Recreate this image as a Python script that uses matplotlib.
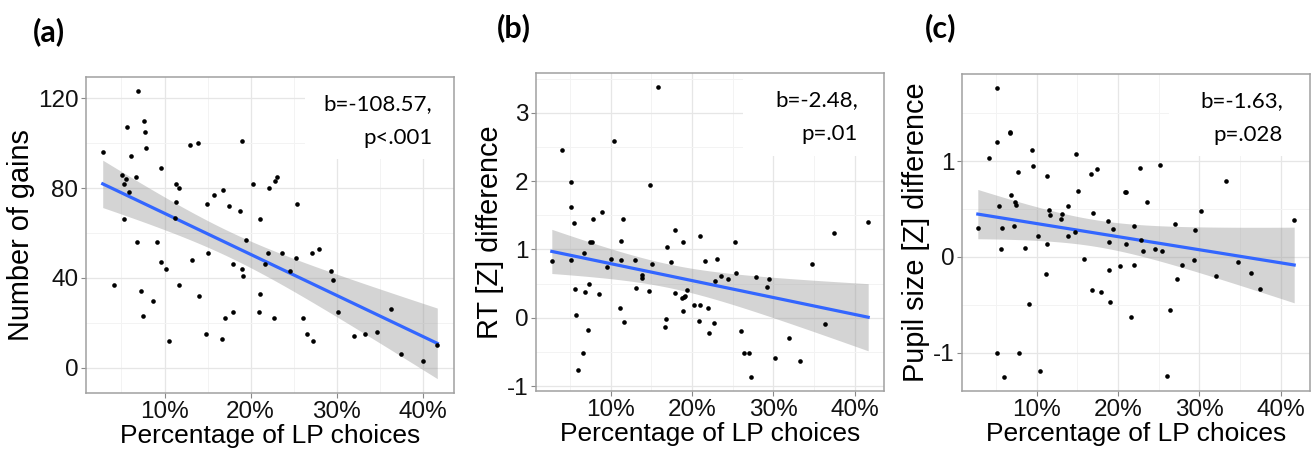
import numpy as np
import matplotlib
matplotlib.use("Agg")
import matplotlib.pyplot as plt
from matplotlib.ticker import MultipleLocator, PercentFormatter
from matplotlib.patches import Rectangle

plt.rcParams["axes.unicode_minus"] = False

# percentage of LP choices (x) and outcome (y)
gains_x = [2.82, 4.17, 5.10, 5.25, 5.52, 5.25, 5.64, 5.87, 6.10, 6.72, 6.83, 6.87, 7.22, 7.49,
           7.57, 7.72, 7.88, 8.69, 9.07, 9.58, 9.65, 10.15, 10.54, 11.20, 11.35, 11.39, 11.66,
           11.66, 13.01, 13.24, 13.90, 13.98, 14.79, 14.94, 15.10, 15.79, 16.64, 16.80, 17.03,
           17.53, 17.95, 17.99, 18.76, 18.96, 19.00, 19.11, 19.42, 20.23, 20.93, 21.04, 21.08,
           21.66, 22.08, 22.16, 22.74, 22.86, 23.09, 23.63, 24.59, 25.25, 25.44, 26.06, 26.53,
           27.10, 27.26, 27.95, 29.31, 29.54, 30.19, 32.01, 33.32, 34.75, 36.37, 37.53, 40.0, 41.70]
gains_y = [96.0, 36.9, 86.0, 82.0, 84.1, 66.1, 107.1, 78.2, 94.1, 85.1, 55.9, 123.1, 34.0, 22.9,
           110.1, 105.1, 98.0, 29.9, 55.9, 47.0, 89.1, 43.9, 12.0, 66.8, 74.0, 82.0, 79.9,
           36.9, 99.0, 47.9, 100.0, 31.9, 14.9, 73.0, 51.0, 77.1, 12.9, 79.1, 21.9,
           72.1, 46.0, 25.0, 70.0, 43.9, 101.1, 40.9, 57.0, 82.0, 25.0, 33.0, 66.1,
           46.0, 51.0, 80.1, 21.9, 83.1, 85.1, 51.0, 43.0, 48.9, 73.0, 21.9, 14.9,
           51.0, 12.0, 52.9, 43.0, 39.0, 25.0, 13.9, 14.9, 16.0, 26.0, 5.9, 3.0, 9.9]

rt_x = [2.75, 4.06, 5.05, 5.13, 5.13, 5.42, 5.58, 5.78, 5.99, 6.64, 6.73, 6.81, 7.18, 7.38,
        7.42, 7.67, 7.79, 8.61, 8.98, 9.51, 10.08, 10.41, 11.15, 11.27, 11.31, 11.56, 11.60,
        12.99, 13.15, 13.89, 13.89, 14.75, 14.87, 15.08, 15.77, 16.63, 16.75, 16.92, 17.45,
        17.90, 17.94, 18.72, 18.84, 18.92, 18.96, 19.09, 19.33, 20.23, 20.89, 21.01, 21.01,
        21.54, 21.99, 22.08, 22.65, 22.85, 23.06, 23.55, 24.49, 25.23, 25.39, 26.05, 26.41,
        27.03, 27.23, 27.89, 29.28, 29.53, 30.22, 31.98, 33.29, 34.77, 36.36, 37.47, 41.68]
rt_y = [0.83, 2.45, 1.99, 1.62, 0.85, 1.38, 0.42, 0.04, -0.76, -0.51, 0.95, 0.38, -0.18, 0.50,
        1.11, 1.11, 1.45, 0.35, 1.55, 0.74, 0.86, 2.59, 0.15, 1.12, 0.84, 1.44, -0.06,
        0.84, 0.43, 0.63, 0.58, 0.39, 1.95, 0.78, 3.37, -0.14, -0.02, 1.03, 0.81,
        1.28, 0.36, 0.29, 1.11, 0.10, 0.31, 0.32, 0.40, 0.19, -0.04, 1.20, 0.18,
        0.83, 0.14, -0.22, -0.08, 0.54, 0.86, 0.61, 0.56, 1.11, 0.65, -0.20, -0.51,
        -0.51, -0.86, 0.60, 0.45, 0.56, -0.59, -0.29, -0.63, 0.78, -0.09, 1.24, 1.40]

pupil_x = [2.74, 4.09, 5.08, 5.16, 5.16, 5.40, 5.61, 5.77, 6.02, 6.68, 6.72, 6.80, 7.17, 7.37,
           7.41, 7.66, 7.83, 8.60, 9.02, 9.47, 9.59, 10.12, 10.41, 11.15, 11.27, 11.31, 11.56,
           11.60, 12.95, 13.12, 13.82, 13.90, 14.76, 14.88, 15.05, 15.79, 16.65, 16.77, 16.93,
           17.47, 17.92, 18.74, 18.90, 18.90, 19.03, 19.36, 20.26, 20.87, 20.99, 20.99, 21.57,
           22.02, 22.02, 22.68, 22.88, 23.09, 23.54, 24.61, 25.22, 25.39, 26.04, 26.41, 27.03,
           27.23, 27.93, 29.29, 29.53, 30.19, 32.0, 33.31, 34.74, 36.34, 37.49, 41.68]
pupil_y = [0.30, 1.03, 1.20, 1.76, -1.00, 0.53, 0.08, 0.30, -1.25, 1.30, 1.29, 0.65, 0.32, 0.57,
           0.54, 0.89, -1.00, 0.09, -0.49, 1.12, 0.95, 0.22, -1.19, -0.18, 0.84, 0.14, 0.49,
           0.44, 0.40, 0.45, 0.53, 0.22, 0.26, 1.08, 0.69, -0.02, 0.87, -0.35, 0.46,
           0.92, -0.37, 0.38, 0.16, -0.14, -0.47, 0.29, -0.09, 0.68, 0.68, 0.14, -0.63,
           0.32, -0.08, 0.93, 0.18, 0.06, 0.57, 0.08, 0.96, 0.06, -1.24, -0.55, 0.34,
           -0.23, -0.08, -0.03, 0.28, 0.48, -0.20, 0.79, -0.05, -0.17, -0.33, 0.39]

panel_tags = ["(a)", "(b)", "(c)"]
y_titles = ["Number of gains", "RT [Z] difference", "Pupil size [Z] difference"]
stats_text = [("b=-108.57,", "p<.001"), ("b=-2.48,", "p=.01"), ("b=-1.63,", "p=.028")]
y_major = [40, 1, 1]

W, H = 1316, 451
fig = plt.figure(figsize=(W / 100, H / 100), dpi=100)

# axes boxes in pixels: left, top, right, bottom
boxes = [(86, 77, 454, 393), (536, 73, 884, 391), (962, 74, 1310, 391)]
tag_pos = [(49, 32), (514, 28), (941, 28)]
stat_x = [0.941, 0.925, 0.922]

sans = ["Liberation Sans", "DejaVu Sans"]
callig = ["Lato", "DejaVu Sans"]


def lm_band(x, y, n_pts=80):
    x = np.asarray(x, float)
    y = np.asarray(y, float)
    slope, icpt = np.polyfit(x, y, 1)
    resid = y - (slope * x + icpt)
    n = len(x)
    s = np.sqrt(np.sum(resid ** 2) / (n - 2))
    xs = np.linspace(x.min(), x.max(), n_pts)
    fit = slope * xs + icpt
    se = s * np.sqrt(1 / n + (xs - x.mean()) ** 2 / np.sum((x - x.mean()) ** 2))
    t = 1.99
    return xs, fit, fit - t * se, fit + t * se


data = [(gains_x, gains_y), (rt_x, rt_y), (pupil_x, pupil_y)]

for i, (xv, yv) in enumerate(data):
    l, t, r, b = boxes[i]
    ax = fig.add_axes([l / W, 1 - b / H, (r - l) / W, (b - t) / H])
    xs, fit, lo, hi = lm_band(xv, yv)
    ax.fill_between(xs, lo, hi, color="#999999", alpha=0.42, lw=0, zorder=2)
    ax.plot(xs, fit, color="#3366FF", lw=2.3, zorder=3)
    ax.scatter(xv, yv, s=11, color="black", lw=0, zorder=4)

    ax.xaxis.set_major_locator(MultipleLocator(10))
    ax.xaxis.set_minor_locator(MultipleLocator(5))
    ax.xaxis.set_major_formatter(PercentFormatter(decimals=0))
    ax.yaxis.set_major_locator(MultipleLocator(y_major[i]))
    ax.yaxis.set_minor_locator(MultipleLocator(y_major[i] / 2))
    ax.grid(True, which="major", color="#e6e6e6", lw=0.9, zorder=0)
    ax.grid(True, which="minor", color="#f3f3f3", lw=0.7, zorder=0)
    ax.set_axisbelow(True)
    ax.tick_params(which="major", length=3.5, width=0.8, color="#888888",
                   labelsize=17.5, labelcolor="#111111", pad=2)
    ax.tick_params(which="minor", length=0)
    for lab in ax.get_xticklabels() + ax.get_yticklabels():
        lab.set_family(sans)
    for sp in ax.spines.values():
        sp.set_color("#a0a0a0")
        sp.set_linewidth(1.1)

    ax.set_xlabel("Percentage of LP choices", fontsize=19, family=sans, labelpad=1)
    ax.set_ylabel(y_titles[i], fontsize=20.8, family=sans, labelpad=2)

    # white patch behind the statistics, hiding the grid
    ax.add_patch(Rectangle((0.595, 0.74), 0.41, 0.26, transform=ax.transAxes,
                           facecolor="white", edgecolor="none", zorder=1))
    line1, line2 = stats_text[i]
    ax.text(stat_x[i], 0.915, line1, transform=ax.transAxes, ha="right", va="center",
            fontsize=16, family=callig, zorder=5)
    ax.text(stat_x[i], 0.808, line2, transform=ax.transAxes, ha="right", va="center",
            fontsize=16, family=callig, zorder=5)

    tx, ty = tag_pos[i]
    fig.text(tx / W, 1 - ty / H, panel_tags[i], ha="center", va="center",
             fontsize=22, fontweight="bold", family=callig)

fig.savefig("out.png", dpi=100, facecolor="white")
